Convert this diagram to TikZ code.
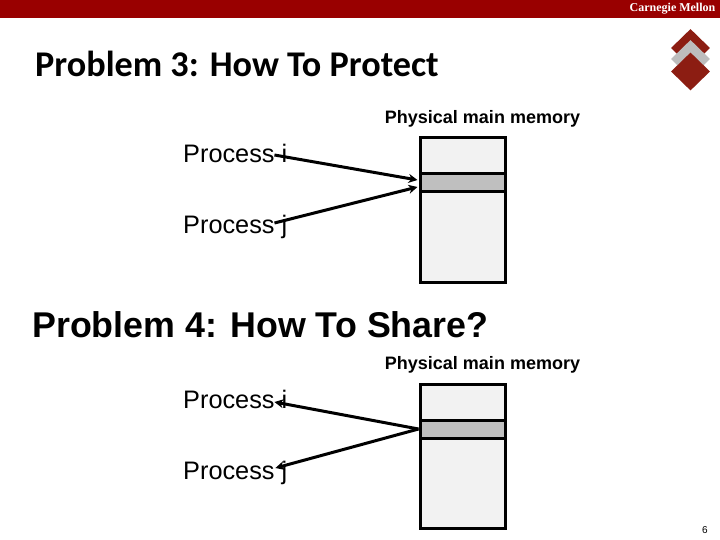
\documentclass[tikz,border=0pt]{standalone}
\usepackage{fontspec}
\setmainfont{Liberation Sans}
\newfontfamily\titlefont{Carlito}
\newfontfamily\logofont{Liberation Serif}
\usetikzlibrary{positioning,arrows.meta,shapes.geometric}
\definecolor{cmured}{HTML}{990000}
\definecolor{logored}{HTML}{8C1D12}
\definecolor{logogray}{HTML}{BDBDBD}
\definecolor{memfill}{HTML}{F2F2F2}
\definecolor{slotfill}{HTML}{BFBFBF}
\tikzset{
  mem/.style={rectangle,draw=black,line width=3pt,fill=memfill,inner sep=0pt,
    minimum width=85pt,minimum height=144pt},
  slot/.style={rectangle,draw=black,line width=3pt,fill=slotfill,inner sep=0pt,
    minimum width=85pt,minimum height=18pt},
  proc/.style={font=\fontsize{25.3}{28}\selectfont,inner sep=0pt,anchor=west},
  memlbl/.style={font=\fontsize{18}{21}\bfseries\selectfont,inner sep=0pt},
  ttl/.style={inner sep=0pt,anchor=west},
  dia/.style={diamond,inner sep=0pt,minimum width=39pt,minimum height=38pt},
  ar/.style={-{Stealth[length=9pt,width=9pt]},line width=3pt,draw=black},
}
\begin{document}
\begin{tikzpicture}[x=1pt,y=-1pt]
  \useasboundingbox (0,0) rectangle (720,540);
  \fill[cmured] (0,0) rectangle (720,18);
  \node[inner sep=0pt,text=white,font=\logofont\fontsize{12}{14}\bfseries\selectfont] (brand) at (672.5,8.5) {Carnegie Mellon};
  \node[dia,fill=logored] (logoa) at (690.5,48) {};
  \node[dia,fill=logogray] (logob) at (690.5,59) {};
  \node[dia,fill=logored] (logoc) at (690.5,71.5) {};
  % upper part
  \node[ttl,font=\titlefont\fontsize{36.2}{42}\bfseries\selectfont] (probthree) at (35,64) {Problem 3: How To Protect};
  \node[memlbl] (lblone) at (482.5,119) {Physical main memory};
  \node[mem] (memone) at (462.5,210) {};
  \node[slot] (slotone) at (462.5,183) {};
  \node[proc] (pione) at (183,153.5) {Process i};
  \node[proc] (pjone) at (183,227) {Process j};
  \draw[ar] ([xshift=-13pt,yshift=-1.5pt]pione.east) -- ([xshift=-1pt,yshift=3pt]slotone.west);
  \draw[ar] ([xshift=-13pt,yshift=4pt]pjone.east) -- ([xshift=-1pt,yshift=-4pt]slotone.west);
  % lower part
  \node[ttl,font=\fontsize{35.8}{40}\bfseries\selectfont] (probfour) at (32,325) {Problem 4: How To Share?};
  \node[memlbl] (lbltwo) at (482.5,365) {Physical main memory};
  \node[mem] (memtwo) at (462.5,456) {};
  \node[slot] (slottwo) at (462.5,429) {};
  \node[proc] (pitwo) at (183,399.5) {Process i};
  \node[proc] (pjtwo) at (183,473) {Process j};
  \draw[ar] (slottwo.west) -- ([xshift=-13pt,yshift=-2.5pt]pitwo.east);
  \draw[ar] (slottwo.west) -- ([xshift=-12pt,yshift=5pt]pjtwo.east);
  \node[inner sep=0pt,font=\fontsize{10}{12}\selectfont] (pagenum) at (705,530) {6};
\end{tikzpicture}
\end{document}
